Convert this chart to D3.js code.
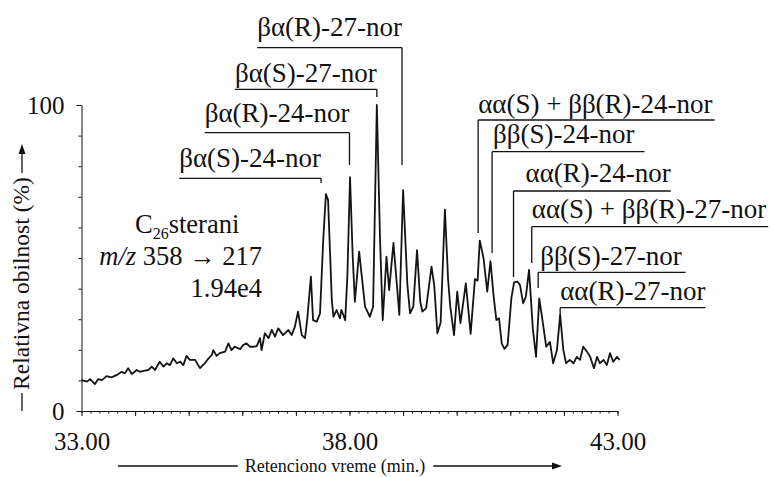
<!DOCTYPE html>
<html><head><meta charset="utf-8">
<script src="https://cdn.jsdelivr.net/npm/d3@7"></script>
<style>
body{margin:0;background:#fff}
svg{display:block}
text{font-family:"Liberation Serif","Times New Roman",serif;fill:#111}
</style>
</head><body>
<svg id="c" width="774" height="477"></svg>
<script>
// ---- data ----
const times = [33.00,33.10,33.16,33.25,33.31,33.38,33.47,33.56,33.66,33.75,
33.81,33.87,33.94,34.03,34.09,34.18,34.25,34.31,34.37,34.46,
34.53,34.59,34.65,34.71,34.78,34.84,34.90,34.96,35.02,35.12,
35.21,35.30,35.37,35.43,35.46,35.52,35.58,35.68,35.74,35.80,
35.86,35.96,36.02,36.08,36.14,36.21,36.27,36.33,36.36,36.42,
36.49,36.55,36.61,36.67,36.76,36.86,36.92,36.98,37.04,37.11,
37.17,37.21,37.28,37.32,37.39,37.45,37.51,37.56,37.60,37.67,
37.70,37.76,37.82,37.85,37.92,37.96,38.01,38.06,38.10,38.18,
38.23,38.29,38.38,38.44,38.51,38.57,38.62,38.69,38.74,38.82,
38.93,39.00,39.08,39.13,39.19,39.26,39.32,39.36,39.43,39.53,
39.58,39.64,39.70,39.78,39.84,39.88,39.95,40.01,40.07,40.17,
40.26,40.34,40.39,40.43,40.50,40.57,40.63,40.69,40.74,40.79,
40.84,40.89,40.95,41.02,41.07,41.13,41.18,41.24,41.29,41.35,
41.42,41.48,41.54,41.60,41.67,41.74,41.80,41.87,41.93,41.99,
42.04,42.11,42.18,42.24,42.30,42.36,42.43,42.49,42.56,42.62,
42.67,42.74,42.80,42.86,42.92,42.99,43.04];
const intensity = [10.1,9.6,10.4,8.8,10.4,10.1,11.4,11.0,11.8,12.8,
12.3,14.0,12.1,13.4,12.8,13.2,13.4,14.5,13.4,16.1,
14.5,15.6,15.0,17.2,15.6,16.1,15.0,18.0,16.7,16.7,
14.0,15.6,17.2,18.3,19.9,18.0,18.9,19.4,22.1,19.9,
21.0,20.2,21.6,22.1,21.0,21.0,21.2,23.8,19.9,25.4,
23.8,26.5,24.3,27.0,24.8,26.5,24.8,27.5,32.5,24.8,
23.8,29.7,43.9,29.7,29.2,31.9,55.9,70.9,69.0,36.3,
30.8,33.0,30.3,33.0,29.7,43.9,76.4,50.4,35.7,52.1,
43.9,34.1,30.8,34.1,100,55.9,29.7,50.4,39.5,54.9,
31.4,72.2,41.2,31.9,34.1,52.6,35.7,32.5,33.6,47.2,
41.2,25.4,28.9,65.8,42.8,34.1,24.8,39.0,28.7,41.7,
25.2,43.1,42.6,55.7,50.0,39.0,49.0,37.4,29.7,30.3,
22.1,20.3,21.6,36.9,42.0,42.3,41.2,35.2,37.4,46.1,
27.0,17.7,36.8,29.7,21.0,22.6,15.6,19.9,31.4,19.9,
15.6,16.7,15.6,17.7,16.7,21.0,19.4,17.7,14.0,17.7,
15.6,16.7,15.0,18.9,16.1,17.7,16.7];

const xTickValues = [33, 38, 43];
const xTickLabels = ["33.00", "38.00", "43.00"];
const yTickValues = [0, 100];
const yTickLabels = ["0", "100"];

const peakNames = ["βα(S)-24-nor","βα(R)-24-nor","βα(S)-27-nor","βα(R)-27-nor",
  "αα(S) + ββ(R)-24-nor","ββ(S)-24-nor","αα(R)-24-nor",
  "αα(S) + ββ(R)-27-nor","ββ(S)-27-nor","αα(R)-27-nor"];
const peakTimes = [37.47, 38.00, 38.51, 38.98, 40.40, 40.66, 41.06, 41.40, 41.52, 41.93];

const xTitle = "Retenciono vreme (min.)";
const yTitle = "Relativna obilnost (%)";

// ---- layout (pixels) ----
const labelSide = ["L","L","L","L","R","R","R","R","R","R"];
const labelBaseline = [167, 122, 82, 36, 113, 143, 182, 218, 265, 300];
const underlineY = [178.3, 132.7, 89.3, 47.7, 120, 151.7, 191, 226.7, 272.3, 307.7];
const leaderEnd = [183, 165, 97, 165, 233, 253, 277, 263, 288, 317];
const textShift = [0, 0, 0, 0, 0, 1, 12, 0, 2, 0];
const lineExtra = [0, 0, 0, 0, 2, 10, 0, 2, 4, 0];

const svg = d3.select("#c");
const ink = "#111";
const x = d3.scaleLinear().domain([33, 43]).range([81.5, 617.5]);
const y = d3.scaleLinear().domain([0, 100]).range([411, 105]);

// x axis: minor ticks (10 s), major ticks (1 min)
const minor = d3.range(0, 61).map(i => 33 + i / 6).filter(v => v <= 43.001);
svg.append("g").attr("transform", "translate(0,411)")
  .call(d3.axisBottom(x).tickValues(minor).tickSize(2.5).tickSizeOuter(0).tickFormat(""))
  .call(g => { g.selectAll("path,line").attr("stroke", ink).attr("stroke-width", 1); });
const major = d3.range(33, 44, 1);
svg.append("g").attr("transform", "translate(0,411)")
  .call(d3.axisBottom(x).tickValues(major).tickSize(5).tickSizeOuter(0)
        .tickFormat(d => { const k = xTickValues.indexOf(d); return k >= 0 ? xTickLabels[k] : ""; }))
  .call(g => {
    g.select(".domain").remove();
    g.selectAll("line").attr("stroke", ink).attr("stroke-width", 1);
    g.selectAll("text").attr("font-family", "Liberation Serif").attr("font-size", 25)
      .attr("fill", ink).attr("y", 38.5).attr("dy", null);
  });

// y axis
svg.append("g").attr("transform", "translate(81.5,0)")
  .call(d3.axisLeft(y).tickValues(d3.range(0, 101, 10)).tickSize(3).tickSizeOuter(0)
        .tickFormat(d => { const k = yTickValues.indexOf(d); return k >= 0 ? yTickLabels[k] : ""; }))
  .call(g => {
    g.selectAll("path,line").attr("stroke", ink).attr("stroke-width", 1);
    g.selectAll(".tick").filter(d => d === 0 || d === 100).select("line").attr("x2", -5);
    g.selectAll("text").attr("font-family", "Liberation Serif").attr("font-size", 25)
      .attr("fill", ink).attr("x", -17).attr("dy", "0.35em");
  });

// trace
const pts = times.map((t, i) => ({t, v: intensity[i]}));
svg.append("path").datum(pts)
  .attr("fill", "none").attr("stroke", "#141414").attr("stroke-width", 1.8)
  .attr("stroke-linejoin", "round")
  .attr("d", d3.line().x(d => x(d.t)).y(d => y(d.v)));

// peak labels
peakNames.forEach((name, i) => {
  const lx = x(peakTimes[i]);
  const g = svg.append("g");
  const txt = g.append("text").attr("font-size", 27).attr("y", labelBaseline[i]).text(name);
  let x0, x1;
  if (labelSide[i] === "L") {
    txt.attr("text-anchor", "end").attr("x", lx);
    const w = txt.node().getComputedTextLength();
    x0 = lx - w; x1 = lx;
  } else {
    txt.attr("text-anchor", "start").attr("x", lx + textShift[i]);
    const w = txt.node().getComputedTextLength();
    x0 = lx; x1 = lx + textShift[i] + w + lineExtra[i];
  }
  g.append("line").attr("x1", x0).attr("x2", x1).attr("y1", underlineY[i]).attr("y2", underlineY[i])
    .attr("stroke", ink).attr("stroke-width", 1.3);
  g.append("line").attr("x1", lx).attr("x2", lx).attr("y1", underlineY[i]).attr("y2", leaderEnd[i])
    .attr("stroke", ink).attr("stroke-width", 1.3);
});

// annotation
const ann = svg.append("text").attr("x", 135).attr("y", 233).attr("font-size", 26.5);
ann.append("tspan").text("C");
ann.append("tspan").attr("font-size", 16).attr("dy", 6).text("26");
ann.append("tspan").attr("dy", -6).text("sterani");
const mz = svg.append("text").attr("x", 262).attr("y", 265).attr("font-size", 26.5).attr("text-anchor", "end");
mz.append("tspan").attr("font-style", "italic").text("m/z");
mz.append("tspan").text(" 358 → 217");
svg.append("text").attr("x", 262).attr("y", 297).attr("font-size", 26.5).attr("text-anchor", "end").text("1.94e4");

// x title with arrows
const xt = svg.append("text").attr("x", 335).attr("y", 472).attr("font-size", 18)
  .attr("text-anchor", "middle").text(xTitle);
const xw = xt.node().getComputedTextLength();
svg.append("line").attr("x1", 118).attr("x2", 335 - xw / 2 - 7).attr("y1", 466).attr("y2", 466)
  .attr("stroke", ink).attr("stroke-width", 1.3);
svg.append("line").attr("x1", 335 + xw / 2 + 8).attr("x2", 554).attr("y1", 466).attr("y2", 466)
  .attr("stroke", ink).attr("stroke-width", 1.3);
svg.append("path").attr("d", "M562,466 L552,462.5 L552,469.5 Z").attr("fill", ink);

// y title with arrow
const cy = 283.5;
const yt = svg.append("text").attr("transform", `translate(29,${cy}) rotate(-90)`)
  .attr("font-size", 23.5).attr("text-anchor", "middle").text(yTitle);
const yw = yt.node().getComputedTextLength();
svg.append("line").attr("x1", 22).attr("x2", 22).attr("y1", 411).attr("y2", cy + yw / 2 + 3)
  .attr("stroke", ink).attr("stroke-width", 1.3);
svg.append("line").attr("x1", 22).attr("x2", 22).attr("y1", cy - yw / 2 - 4).attr("y2", 152)
  .attr("stroke", ink).attr("stroke-width", 1.3);
svg.append("path").attr("d", "M22,144 L18.5,154 L25.5,154 Z").attr("fill", ink);
</script>
</body></html>
